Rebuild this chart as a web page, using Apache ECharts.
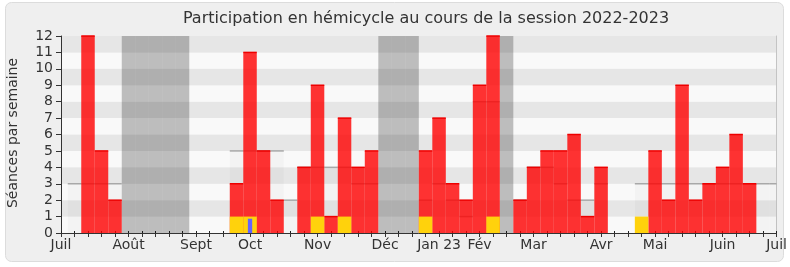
<!DOCTYPE html>
<html>
<head>
<meta charset="utf-8">
<script src="https://cdn.jsdelivr.net/npm/echarts@6/dist/echarts.min.js"></script>
<style>
html,body{margin:0;padding:0;background:#ffffff;}
#chart{width:790px;height:267px;}
</style>
</head>
<body>
<div id="chart"></div>
<script>
// ---- Data (week index 0..53, from Juil 2022 to Juil 2023) ----
const weekCount = 54;
const monthLabels = ['Juil','Août','Sept','Oct','Nov','Déc','Jan 23','Fév','Mar','Avr','Mai','Juin','Juil'];
const monthWeeks  = [0, 5, 10, 14, 19, 24, 28, 31, 35, 40, 44, 49, 53];
const yTicks = [0,1,2,3,4,5,6,7,8,9,10,11,12];
const vacationWeeks = [5,6,7,8,9,24,25,26,33];
// séances en hémicycle par semaine
const seances = [
  0,0,12,5,2, 0,0,0,0,0, 0,0,0,3,11, 5,2,0,4,9,
  1,7,4,5,0, 0,0,5,7,3, 2,9,12,0,2, 4,5,5,6,1,
  4,0,0,0,5, 2,9,2,3,4, 6,3,0,0
];
// questions orales
const questions = [
  0,0,0,0,0, 0,0,0,0,0, 0,0,0,1,1, 0,0,0,0,1,
  0,1,0,0,0, 0,0,1,0,0, 0,0,1,0,0, 0,0,0,0,0,
  0,0,0,1,0, 0,0,0,0,0, 0,0,0,0
];
// médiane de l'ensemble des députés
const mediane = [
  0,3,3,3,3, 0,0,0,0,0, 0,0,0,5,5, 5,5,2,4,4,
  4,4,3,3,0, 0,0,2,3,2, 1,8,8,0,2, 4,4,3,2,2,
  3,0,0,3,3, 3,3,3,3,3, 3,3,3,3
];
// interventions (barre fine)
const interventionWeeks = [14];
const interventionValues = [0.87];

// ---- Build ----
const categories = Array.from({length: weekCount}, (_, i) => {
  const k = monthWeeks.indexOf(i);
  return k >= 0 ? monthLabels[k] : '';
});

function clipX(r, cs) {
  const x1 = Math.max(r.x, cs.x), x2 = Math.min(r.x + r.width, cs.x + cs.width);
  return {x: x1, y: r.y, width: Math.max(0, x2 - x1), height: r.height};
}

function barSeries(values, fill, edge, edgeWidth, frac, name) {
  return {
    type: 'custom', name: name, silent: true,
    data: values.map((v, i) => [i, v]),
    renderItem: function (params, api) {
      const i = api.value(0), v = api.value(1);
      if (!v) return null;
      const w = api.size([1, 0])[0] * frac;
      const top = api.coord([i, v]);
      const base = api.coord([i, 0]);
      const r = clipX({x: top[0] - w / 2, y: top[1], width: w, height: base[1] - top[1]}, params.coordSys);
      if (r.width <= 0) return null;
      const children = [{type: 'rect', shape: r, style: {fill: fill}}];
      if (edge) {
        children.push({type: 'line', shape: {x1: r.x, y1: r.y, x2: r.x + r.width, y2: r.y},
          style: {stroke: edge, lineWidth: edgeWidth}});
      }
      return {type: 'group', children: children};
    }
  };
}

const vacationSeries = {
  type: 'custom', silent: true,
  data: vacationWeeks.map(w => [w, 0]),
  renderItem: function (params, api) {
    const i = api.value(0);
    const w = api.size([1, 0])[0];
    const c = api.coord([i, 0]);
    const cs = params.coordSys;
    const r = clipX({x: c[0] - w / 2, y: cs.y, width: w, height: cs.height}, cs);
    return {type: 'rect', shape: r, style: {fill: 'rgba(0,0,0,0.24)'}};
  }
};

const blueData = [];
for (let i = 0; i < weekCount; i++) blueData.push(0);
interventionWeeks.forEach((w, k) => { blueData[w] = interventionValues[k]; });

const chart = echarts.init(document.getElementById('chart'), null, {renderer: 'canvas'});
const font = 'DejaVu Sans';
chart.setOption({
  animation: false,
  backgroundColor: '#ffffff',
  graphic: [
    {type: 'rect', z: -100, shape: {x: 5.5, y: 2.5, width: 778, height: 259, r: 6},
     style: {fill: '#efefef', stroke: '#dcdcdc', lineWidth: 1}},
    {type: 'text', z: 100, x: 426, y: 19,
     style: {text: 'Participation en hémicycle au cours de la session 2022-2023', fontSize: 16,
       fontFamily: font, fill: '#333333', textAlign: 'center', textVerticalAlign: 'middle'}},
    {type: 'text', z: 100, x: 13, y: 133, rotation: Math.PI / 2,
     style: {text: 'Séances par semaine', fontSize: 14, fontFamily: font, fill: '#333333',
       textAlign: 'center', textVerticalAlign: 'middle'}}
  ],
  grid: {left: 61, right: 10, top: 36, bottom: 34},
  xAxis: [{
    type: 'category', data: categories, boundaryGap: false, position: 'bottom',
    axisLine: {show: true, lineStyle: {color: '#333333', width: 1}},
    axisTick: {show: true, interval: 0, length: 4, lineStyle: {color: '#333333'}},
    axisLabel: {show: true, interval: 0, margin: 5, fontSize: 14, fontFamily: font, color: '#333333'},
    splitLine: {show: false}
  }, {
    type: 'category', data: categories, boundaryGap: false, position: 'top',
    axisLine: {show: false},
    axisTick: {show: true, interval: 0, length: 2, lineStyle: {color: '#222222', width: 1}},
    axisLabel: {show: false},
    splitLine: {show: false}
  }],
  yAxis: [{
    type: 'value', min: 0, max: 12, interval: 1,
    axisLine: {show: true, lineStyle: {color: '#333333', width: 1}},
    axisTick: {show: true, length: 5, lineStyle: {color: '#333333'}},
    axisLabel: {fontSize: 14, fontFamily: font, color: '#333333', margin: 8,
      formatter: v => String(yTicks[v] !== undefined ? yTicks[v] : v)},
    splitLine: {show: false},
    splitArea: {show: true, areaStyle: {color: ['#f9f9f9', '#e6e6e6']}}
  }, {
    type: 'value', min: 0, max: 12, interval: 1, position: 'right',
    axisLine: {show: true, lineStyle: {color: '#c4c4c4', width: 1}},
    axisTick: {show: false}, axisLabel: {show: false}, splitLine: {show: false}
  }],
  series: [
    vacationSeries,
    barSeries(mediane, 'rgba(0,0,0,0.025)', '#a8a8a8', 1.5, 1, 'médiane'),
    barSeries(seances, 'rgba(255,0,0,0.8)', '#ee0000', 1.5, 1, 'séances'),
    barSeries(questions, '#ffd20c', null, 0, 1, 'questions'),
    barSeries(blueData, '#6464ff', null, 0, 0.32, 'interventions')
  ]
});
</script>
</body>
</html>
